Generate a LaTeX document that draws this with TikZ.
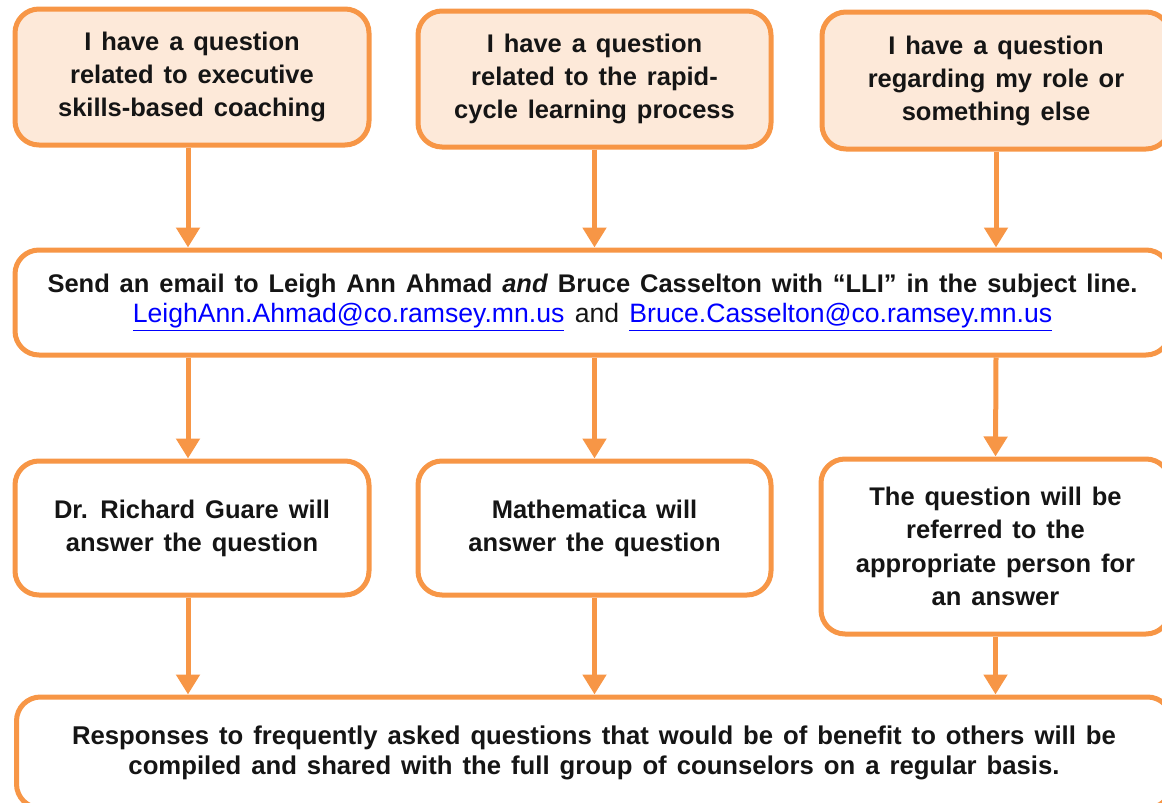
\documentclass[tikz,border=0pt]{standalone}
\usepackage{fontspec}
\setmainfont{Liberation Sans}[WordSpace=1.4]
\usetikzlibrary{arrows.meta}
\definecolor{orng}{HTML}{F79646}
\definecolor{peach}{HTML}{FDE9D9}
\definecolor{txt}{HTML}{151515}
\definecolor{linkblue}{HTML}{0000FF}
\tikzset{
  box/.style={draw=orng, line width=5pt, rounded corners=24pt, fill=white,
    inner sep=0pt, align=center, text=txt, font=\fontsize{25.5}{33}\selectfont\bfseries},
  qbox/.style={box, fill=peach},
  arr/.style={draw=orng, line width=5pt, -{Triangle[length=20pt,width=23pt]}}
}
\begin{document}
\begin{tikzpicture}[x=1pt,y=-1pt]
\useasboundingbox (0,0) rectangle (1162,803);
\clip (0,0) rectangle (1162,803);
\node[qbox, minimum width=354pt, minimum height=136pt] (A1) at (192,77)
  {I have a question\\related to executive\\skills-based coaching};
\node[qbox, minimum width=353pt, minimum height=136pt] (A2) at (594.5,79)
  {I have a question\\related to the rapid-\\cycle learning process};
\node[qbox, minimum width=348pt, minimum height=137pt] (A3) at (996,80.5)
  {I have a question\\regarding my role or\\something else};
\node[box, minimum width=1155pt, minimum height=105pt, font=\fontsize{25.5}{30}\selectfont\bfseries] (E) at (592.5,302.5)
  {Send an email to Leigh Ann Ahmad \textit{and} Bruce Casselton with “LLI” in the subject line.\\
   {\fontsize{26.6}{30}\selectfont\mdseries{\color{linkblue}\underline{LeighAnn.Ahmad@co.ramsey.mn.us}} and {\color{linkblue}\underline{Bruce.Casselton@co.ramsey.mn.us}}}};
\node[box, minimum width=354pt, minimum height=134pt] (B1) at (192,528)
  {Dr. Richard Guare will\\answer the question};
\node[box, minimum width=353pt, minimum height=134pt] (B2) at (594.5,528)
  {Mathematica will\\answer the question};
\node[box, minimum width=349pt, minimum height=175pt, font=\fontsize{25.5}{33.5}\selectfont\bfseries] (B3) at (995.5,546.5)
  {The question will be\\referred to the\\appropriate person for\\an answer};
\node[box, minimum width=1155pt, minimum height=111pt, font=\fontsize{25.7}{30}\selectfont\bfseries] (F) at (594,752.5)
  {Responses to frequently asked questions that would be of benefit to others will be\\compiled and shared with the full group of counselors on a regular basis.};
\draw[arr] ([xshift=-4pt]A1.south) -- ([xshift=-4pt]A1.south |- E.north);
\draw[arr] (A2.south) -- (A2.south |- E.north);
\draw[arr] (A3.south) -- (A3.south |- E.north);
\draw[arr] ([xshift=-4pt]A1.south |- E.south) -- ([xshift=-4pt]B1.north);
\draw[arr] (A2.south |- E.south) -- (B2.north);
\draw[arr] (A3.south |- E.south) -- (B3.north);
\draw[arr] ([xshift=-4pt]B1.south) -- ([xshift=-4pt]B1.south |- F.north);
\draw[arr] (B2.south) -- (B2.south |- F.north);
\draw[arr] (B3.south) -- (B3.south |- F.north);
\end{tikzpicture}
\end{document}
